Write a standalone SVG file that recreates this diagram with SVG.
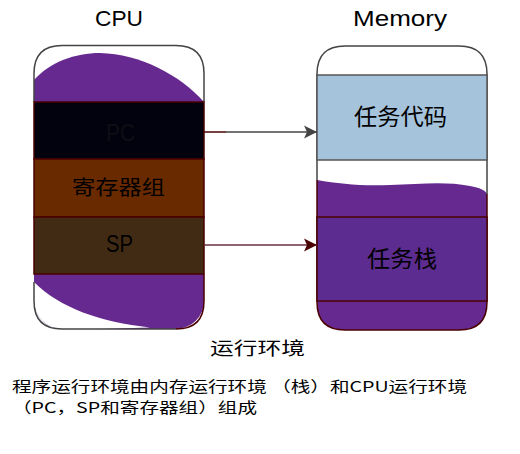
<svg xmlns="http://www.w3.org/2000/svg" width="520" height="454" viewBox="0 0 520 454">
<defs>
<style>
.lat{font-family:"Liberation Sans",Arial,"Noto Sans CJK SC",sans-serif;fill:#000}
.cjk{font-family:"Noto Sans CJK SC","Liberation Sans",sans-serif;fill:#000}
.band{stroke:#4a0000;stroke-width:1.5}
.outline{fill:none;stroke:#444;stroke-width:1.5}
.red{fill:none;stroke:#4a0000;stroke-width:1.5}
</style>
<clipPath id="cpuClip"><rect x="34" y="45.5" width="170" height="283.5" rx="28" ry="28"/></clipPath>
<marker id="arrGray" viewBox="0 0 14 14" refX="13" refY="7" markerWidth="14" markerHeight="14" markerUnits="userSpaceOnUse" orient="auto">
<path d="M13,7 L0,0.5 L3,7 L0,13.5 Z" fill="#444"/>
</marker>
<marker id="arrRed" viewBox="0 0 14 14" refX="13" refY="7" markerWidth="14" markerHeight="14" markerUnits="userSpaceOnUse" orient="auto">
<path d="M13,7 L0,0.5 L3,7 L0,13.5 Z" fill="#4a0000"/>
</marker>
</defs>
<rect width="520" height="454" fill="#fff"/>

<g id="cpu">
<text class="lat" x="95" y="26" font-size="22" textLength="48" lengthAdjust="spacingAndGlyphs">CPU</text>
<g clip-path="url(#cpuClip)">
<path d="M34,80 C50,62 75,53 100,53 C140,54 180,75 204,102 L204,329 L34,329 Z" fill="#66298f"/>
<path d="M34,282 C60,308 100,322 150,327.5 L34,331 Z" fill="#fff"/>
</g>
<path class="red" d="M204,274 L204,301 Q204,329 176,329"/>
<path class="outline" d="M34,282 L34,301 Q34,329 62,329 L176,329"/>
<path class="outline" d="M34,102 L34,73.5 Q34,45.5 62,45.5 L176,45.5 Q204,45.5 204,73.5 L204,102"/>
</g>

<g id="pc">
<rect class="band" x="34" y="102" width="170" height="57" fill="#02020f"/>
<text class="lat" x="106" y="141" font-size="24" textLength="29" lengthAdjust="spacingAndGlyphs" style="fill:#0e0e14">PC</text>
</g>
<g id="regs">
<rect class="band" x="34" y="159" width="170" height="58" fill="#6a2a00"/>
<text class="cjk" x="72" y="195" font-size="20" textLength="93" lengthAdjust="spacingAndGlyphs">寄存器组</text>
</g>
<g id="sp">
<rect class="band" x="34" y="217" width="170" height="57" fill="#412b14"/>
<text class="lat" x="106" y="252" font-size="24" textLength="27" lengthAdjust="spacingAndGlyphs">SP</text>
</g>

<g id="memory">
<text class="lat" x="353" y="26" font-size="22" textLength="94" lengthAdjust="spacingAndGlyphs">Memory</text>
<path d="M317,180 C340,184 360,186 390,185 C420,184 445,181 470,186 C480,188 485,190 487,194 L487,302 Q487,330 459,330 L345,330 Q317,330 317,302 Z" fill="#66298f"/>
<path class="outline" d="M317,180 L317,74 Q317,46 345,46 L459,46 Q487,46 487,74 L487,194"/>
<path class="red" d="M317,180 L317,302 Q317,330 345,330 L459,330 Q487,330 487,302 L487,194"/>
</g>
<g id="taskcode">
<rect x="317" y="75" width="170" height="85" fill="#a6c3dc" stroke="#555" stroke-width="1.5"/>
<text class="cjk" x="354" y="124.5" font-size="23" textLength="93" lengthAdjust="spacingAndGlyphs">任务代码</text>
</g>
<g id="taskstack">
<rect class="band" x="317" y="217" width="170" height="84" fill="#5d2c90"/>
<text class="cjk" x="367" y="266.5" font-size="23" textLength="70" lengthAdjust="spacingAndGlyphs">任务栈</text>
</g>

<g id="connectors">
<line x1="204" y1="132" x2="226" y2="132" stroke="#4a0000" stroke-width="1.5"/>
<line x1="226" y1="132" x2="317" y2="132" stroke="#444" stroke-width="1.5" marker-end="url(#arrGray)"/>
<line x1="204" y1="245" x2="317" y2="245" stroke="#6a3040" stroke-width="1.5" marker-end="url(#arrRed)"/>
</g>

<g id="labels">
<text class="cjk" x="210" y="355" font-size="18" textLength="95" lengthAdjust="spacingAndGlyphs">运行环境</text>
<text class="cjk" x="12" y="392" font-size="15" textLength="455" lengthAdjust="spacingAndGlyphs">程序运行环境由内存运行环境 （栈）和CPU运行环境</text>
<text class="cjk" x="12" y="413" font-size="15" textLength="245" lengthAdjust="spacingAndGlyphs">（PC，SP和寄存器组）组成</text>
</g>
</svg>
